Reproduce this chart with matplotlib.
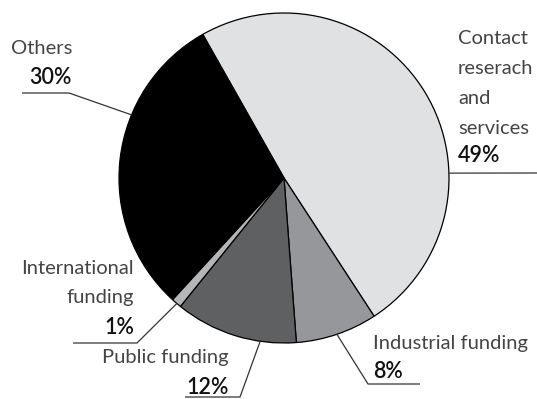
import numpy as np
import matplotlib.pyplot as plt

# data
categories = ['Contact\nreserach\nand\nservices', 'Industrial funding', 'Public funding',
              'International\nfunding', 'Others']
shares = [49, 8, 12, 1, 30]
colors = ['#e0e1e3', '#96979a', '#5f6062', '#b5b6b8', '#000000']

W, H = 537, 399
cx, cy, r = 284, H - 178, 165

fig = plt.figure(figsize=(W / 100, H / 100), dpi=100)
ax = fig.add_axes([0, 0, 1, 1])

ax.pie(shares, colors=colors, startangle=119.5, counterclock=False,
       center=(cx, cy), radius=r, frame=True,
       wedgeprops=dict(edgecolor='black', linewidth=0.9))
ax.set_xlim(0, W)
ax.set_ylim(0, H)
ax.set_aspect('equal')
ax.axis('off')

font = ['Lato', 'DejaVu Sans']
lab_kw = dict(family=font, fontweight='normal', color='#444444', fontsize=14.5)
pct_kw = dict(family=font, fontweight='semibold', color='#111111', fontsize=15.5)


def edge(angle):
    a = np.radians(angle)
    return cx + r * np.cos(a), cy + r * np.sin(a)


def leader(angle, pts):
    x0, y0 = edge(angle)
    xs = [x0] + [p[0] for p in pts]
    ys = [y0] + [H - p[1] for p in pts]
    ax.plot(xs, ys, color='#333333', lw=0.9, solid_capstyle='butt')


# text x, alignment, label line y's, percent y, anchor angle, leader points
layout = [
    dict(x=458, ha='left', ys=[38, 68, 98, 128], py=156, ang=1.7,
         pts=[(537, 173)]),
    dict(x=373, ha='left', ys=[343], py=372, ang=-71.3,
         pts=[(368, 384), (420, 384)]),
    dict(x=229, ha='right', ys=[358], py=388, ang=-98.3,
         pts=[(240, 397), (185, 397)]),
    dict(x=134, ha='right', ys=[268, 298], py=327, ang=-130.5,
         pts=[(137, 343), (73, 343)]),
    dict(x=72, ha='right', ys=[48], py=78, ang=157.5,
         pts=[(69, 93), (22, 93)]),
]

for cat, val, lay in zip(categories, shares, layout):
    for line, y in zip(cat.split('\n'), lay['ys']):
        ax.text(lay['x'], H - y, line, ha=lay['ha'], va='center', **lab_kw)
    ax.text(lay['x'], H - lay['py'], f'{val}%', ha=lay['ha'], va='center', **pct_kw)
    leader(lay['ang'], lay['pts'])

fig.savefig('out.png', dpi=100)
